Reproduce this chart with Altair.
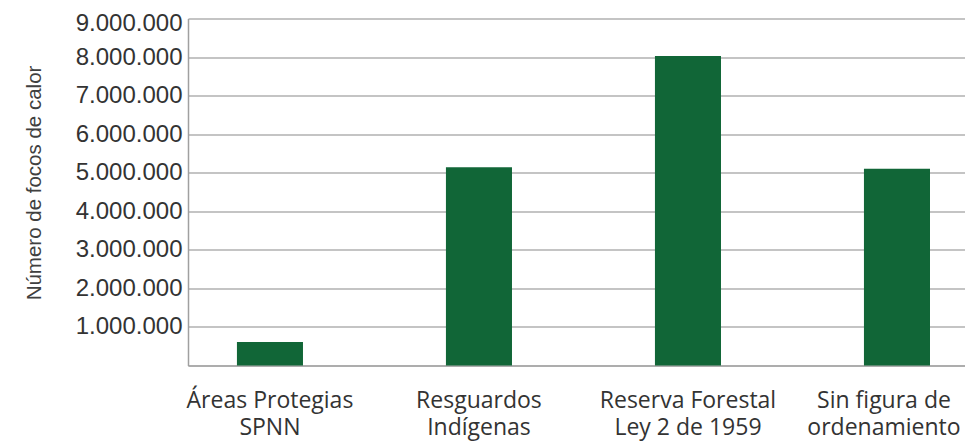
import altair as alt
import pandas as pd

categories = [
    "Áreas Protegias|SPNN",
    "Resguardos|Indígenas",
    "Reserva Forestal|Ley 2 de 1959",
    "Sin figura de|ordenamiento",
]
focos = [610000, 5140000, 8030000, 5100000]
y_ticks = [0, 1000000, 2000000, 3000000, 4000000, 5000000,
           6000000, 7000000, 8000000, 9000000]

df = pd.DataFrame({"categoria": categories, "focos": focos})

chart = (
    alt.Chart(df)
    .mark_bar(color="#116637")
    .encode(
        x=alt.X(
            "categoria:N",
            sort=categories,
            title=None,
            scale=alt.Scale(paddingInner=0.684, paddingOuter=0.2008, align=0.583),
            axis=alt.Axis(
                labelExpr="split(datum.label, '|')",
                labelAngle=0,
                labelFont="Open Sans",
                labelFontSize=23,
                labelLineHeight=27,
                labelColor="#333333",
                labelPadding=24,
                labelLimit=400,
                labelOffset={
                    "condition": {
                        "test": "datum.value == 'Sin figura de|ordenamiento'",
                        "value": -13,
                    },
                    "value": 0,
                },
                ticks=False,
                domainColor="#a6a6a6",
                domainWidth=1.5,
                grid=False,
            ),
        ),
        y=alt.Y(
            "focos:Q",
            title="Número de focos de calor",
            scale=alt.Scale(domain=[0, 9000000], nice=False),
            axis=alt.Axis(
                values=y_ticks,
                labelExpr="datum.value == 0 ? '' : replace(format(datum.value, ','), /,/g, '.')",
                labelFont="Liberation Sans",
                labelFontSize=24,
                labelColor="#333333",
                labelPadding=6,
                labelOffset={
                    "condition": {"test": "datum.value == 9000000", "value": 5},
                    "value": 0,
                },
                ticks=False,
                domainColor="#a0a0a0",
                domainWidth=1.5,
                gridColor="#8a8a8a",
                gridWidth=1.2,
                titleFont="Liberation Sans",
                titleFontSize=20.5,
                titleFontWeight="normal",
                titleColor="#404040",
                titleX=-148,
                titleY=164,
                titleBaseline="alphabetic",
                titleAngle=270,
            ),
        ),
    )
    .properties(
        width=777,
        height=347,
        autosize=alt.AutoSizeParams(type="none"),
        padding={"left": 180, "top": 10.5, "right": 0, "bottom": 78},
    )
    .configure_view(stroke=None)
    .configure_axis(labelOverlap=False)
)

chart.save("out.html", embed_options={"renderer": "svg", "actions": False})
